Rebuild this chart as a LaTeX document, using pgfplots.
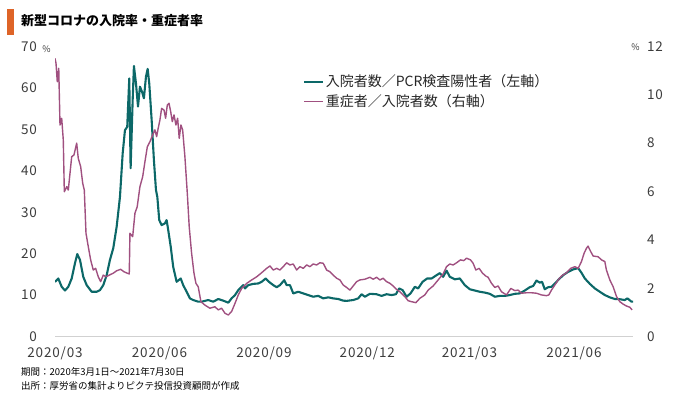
\documentclass[border=0pt]{standalone}
\usepackage{fontspec}
\setmainfont{Noto Sans CJK JP}
\usepackage{pgfplots}
\pgfplotsset{compat=1.18}
\definecolor{tealc}{RGB}{12,104,104}
\definecolor{magc}{RGB}{160,80,128}
\definecolor{barc}{RGB}{222,100,40}
\definecolor{txtc}{RGB}{60,60,60}

\begin{document}
\begin{tikzpicture}[x=1pt,y=1pt]
\useasboundingbox (0,0) rectangle (680,395);
\fill[barc] (7,360) rectangle (14,386);
\node[anchor=base west, inner sep=0, font=\fontsize{13}{15}\selectfont\bfseries] at (21,369) {新型コロナの入院率・重症者率};
\node[anchor=center, inner sep=0, text=txtc, font=\fontsize{9}{10}\selectfont] at (46.5,345.5) {\%};
\node[anchor=center, inner sep=0, text=txtc, font=\fontsize{9}{10}\selectfont] at (635.5,348) {\%};
\node[anchor=base west, inner sep=0, text=black, font=\fontsize{9.5}{11}\selectfont] at (21,19) {期間：2020年3月1日～2021年7月30日};
\node[anchor=base west, inner sep=0, text=black, font=\fontsize{9.5}{11}\selectfont] at (21,5.5) {出所：厚労省の集計よりピクテ投信投資顧問が作成};

\pgfplotsset{
  common/.style={
    scale only axis, width=578pt, height=290pt,
    at={(55pt,58.5pt)}, anchor=south west,
    xmin=0, xmax=509,
    major tick length=0pt,
    /pgf/number format/assume math mode=true,
    tick label style={font=\fontsize{13.5}{16}\selectfont\addfontfeatures{LetterSpace=6}, text=txtc},
  }
}
\begin{axis}[common,
  ymin=0, ymax=70, ytick={0,10,...,70},
  axis x line*=bottom, axis y line*=left,
  y axis line style={draw=none},
  x axis line style={draw=black!18, line width=0.8pt, -},
  xtick={0,92,184,275,365,457},
  xticklabels={2020/03,2020/06,2020/09,2020/12,2021/03,2021/06},
  xticklabel style={anchor=base, inner sep=0pt, yshift=-21pt},
  yticklabel style={anchor=east, inner sep=0pt, xshift=-18pt},
]
\addplot[color=tealc, line width=2.1pt, line join=round] coordinates {
(0,13.2)(2.9,14.0)(5.9,12.0)(8.8,11.1)(11.7,12.0)(14.7,14.0)(17.6,17.7)(19.6,19.9)(22.0,18.5)(24.9,14.4)(27.9,12.4)(32.3,10.8)(36.7,10.8)(39.6,11.2)(42.5,12.4)(45.5,14.8)(48.4,18.5)(51.3,21.3)(54.3,26.5)(57.2,33.7)(59.6,44.2)(61.6,49.8)(63.6,50.6)(65.4,62.3)(66.6,40.6)(68.4,57.1)(69.5,65.3)(71.3,61.1)(73.1,55.5)(74.8,60.3)(76.6,59.1)(78.3,57.5)(80.1,62.7)(81.6,64.6)(83.0,61.1)(85.1,52.3)(87.1,42.6)(88.9,35.4)(90.1,33.7)(91.8,28.1)(93.9,26.9)(96.8,27.3)(98.3,28.1)(99.7,25.7)(101.9,21.7)(104.1,16.8)(107.1,13.2)(110.7,14.0)(112.9,12.4)(115.9,10.8)(118.8,9.2)(121.7,8.8)(126.1,8.4)(129.1,8.4)(134.9,8.8)(139.3,8.4)(143.8,9.05)(148.2,8.65)(152.6,8.16)(155.5,9.2)(158.5,10.0)(161.4,11.2)(165.8,12.4)(167.3,11.6)(170.2,12.4)(174.6,12.7)(179.0,12.8)(182.0,13.2)(185.5,14.0)(188.4,13.2)(192.2,12.4)(195.2,11.9)(198.1,12.4)(201.9,13.6)(204.0,12.4)(206.9,12.4)(209.8,10.4)(214.2,10.8)(218.6,10.4)(223.0,10.0)(227.4,9.6)(231.8,9.8)(236.2,9.2)(240.6,9.45)(245.0,9.2)(249.4,9.05)(253.8,8.65)(256.8,8.6)(262.6,8.8)(267.0,9.2)(270.0,10.2)(272.9,9.6)(277.3,10.3)(283.2,10.2)(287.6,9.8)(292.0,10.2)(296.4,10.0)(300.2,10.2)(303.1,11.6)(306.1,11.2)(309.6,9.6)(313.1,10.4)(316.9,12.0)(319.8,11.6)(323.7,13.2)(327.7,14.0)(331.6,14.0)(336.0,14.8)(338.9,15.3)(341.8,14.4)(344.8,15.9)(347.7,14.4)(352.1,13.8)(356.5,14.0)(360.9,12.4)(365.3,11.4)(369.7,11.1)(374.1,10.8)(378.5,10.6)(382.9,10.3)(387.3,9.6)(391.7,9.8)(396.1,9.8)(400.5,10.0)(404.9,10.3)(409.3,10.4)(413.7,11.1)(418.1,11.9)(421.1,12.2)(424.0,13.5)(426.9,13.0)(428.9,13.2)(431.3,11.4)(434.3,11.9)(437.2,12.0)(440.2,12.8)(443.7,13.8)(447.5,14.8)(451.9,15.6)(456.3,16.2)(460.7,16.5)(463.6,15.4)(466.6,14.0)(471.0,12.7)(475.4,11.6)(479.8,10.8)(484.2,10.0)(488.6,9.45)(493.0,9.05)(497.4,9.0)(501.7,8.8)(504.1,9.2)(507.7,8.4)(509,8.4)
};
\end{axis}
\begin{axis}[common,
  ymin=0, ymax=12, ytick={0,2,...,12},
  axis y line*=right, axis x line=none,
  y axis line style={draw=none},
  yticklabel style={anchor=west, inner sep=0pt, xshift=14pt},
  legend cell align=left,
  legend style={at={(axis description cs:0.429,0.908)}, anchor=north west, draw=none, fill=none,
    font=\fontsize{14}{16}\selectfont, text=black!85, row sep=3.5pt, inner sep=0pt,
    nodes={inner sep=1.5pt}},
  legend image code/.code={\draw[#1] (0pt,0pt) -- (19pt,0pt);},
]
\addlegendimage{color=tealc, line width=2.1pt}
\addlegendentry{入院者数／PCR検査陽性者（左軸）}
\addplot[color=magc, line width=1.4pt, line join=round] coordinates {
(0,11.51)(0.9,11.3)(2.0,10.54)(3.3,11.1)(4.4,8.75)(5.9,9.03)(7.3,8.13)(8.2,5.99)(10.3,6.2)(11.7,6.06)(13.2,6.75)(14.7,7.44)(16.7,7.51)(19.1,8.0)(20.5,7.37)(22.6,7.03)(24.4,6.34)(25.8,6.06)(27.3,4.27)(29.3,3.72)(31.4,3.17)(33.7,2.75)(35.8,2.82)(38.1,2.47)(40.2,2.27)(42.5,2.54)(44.9,2.47)(47.8,2.54)(51.3,2.62)(54.3,2.72)(57.8,2.78)(60.7,2.68)(63.6,2.62)(65.4,2.59)(66.0,4.27)(68.4,4.13)(70.4,5.1)(72.4,5.37)(74.8,6.2)(77.2,6.61)(79.2,7.23)(81.3,7.85)(83.6,8.06)(86.0,8.34)(88.0,8.55)(89.5,8.27)(90.9,8.62)(92.4,8.96)(93.9,9.44)(96.0,9.37)(97.4,9.03)(98.9,9.58)(100.4,9.65)(101.9,9.3)(103.3,8.89)(104.8,9.17)(106.5,8.75)(108.0,9.03)(109.4,8.2)(110.9,8.75)(112.4,8.55)(114.4,7.44)(116.5,5.93)(118.2,4.54)(120.3,3.44)(122.4,2.62)(124.1,2.2)(126.1,2.06)(128.5,1.44)(132.0,1.30)(136.4,1.17)(140.8,1.23)(143.8,1.10)(146.7,1.17)(149.7,0.96)(152.6,0.89)(155.5,1.03)(158.5,1.37)(161.4,1.72)(164.4,1.99)(168.8,2.2)(173.2,2.34)(177.6,2.47)(182.0,2.64)(186.4,2.82)(189.3,2.92)(192.2,2.75)(195.2,2.82)(198.1,2.75)(201.0,2.89)(204.0,3.05)(206.9,2.96)(209.8,3.0)(212.8,2.75)(215.7,2.89)(218.6,2.82)(221.6,2.96)(224.5,2.89)(227.4,3.0)(230.4,2.96)(233.3,3.05)(236.2,3.03)(239.2,2.75)(242.1,2.68)(245.0,2.54)(248.0,2.41)(250.9,2.34)(253.8,2.13)(256.8,2.03)(259.7,1.92)(262.6,2.09)(265.6,2.27)(268.5,2.34)(272.9,2.37)(277.3,2.45)(280.2,2.37)(283.2,2.45)(286.1,2.34)(289.0,2.41)(292.0,2.27)(294.9,2.2)(297.8,2.09)(300.8,1.95)(303.7,1.85)(308.1,1.65)(311.0,1.48)(314.0,1.44)(317.8,1.40)(321.3,1.58)(325.7,1.72)(328.6,1.92)(333.0,2.09)(337.4,2.34)(341.8,2.59)(344.8,2.89)(347.7,3.0)(350.6,2.96)(353.6,3.05)(357.1,3.17)(360.0,3.14)(362.4,3.24)(365.9,3.17)(368.2,3.03)(370.6,2.75)(373.5,2.82)(376.5,2.62)(379.4,2.5)(381.4,2.45)(384.4,2.2)(387.3,2.03)(390.2,2.09)(393.2,1.85)(397.6,1.72)(401.4,1.99)(404.9,1.9)(407.8,1.92)(410.8,1.79)(415.2,1.81)(419.6,1.81)(424.0,1.79)(428.4,1.72)(432.8,1.69)(434.9,1.72)(437.2,1.92)(440.2,2.13)(443.1,2.34)(446.0,2.5)(450.5,2.64)(454.2,2.82)(457.8,2.89)(460.7,2.82)(463.6,3.1)(465.9,3.44)(468.0,3.65)(469.4,3.74)(471.8,3.51)(473.9,3.33)(478.3,3.3)(481.3,3.17)(484.2,3.1)(485.6,2.75)(488.6,2.34)(491.5,2.06)(494.5,1.65)(497.4,1.44)(500.3,1.34)(503.3,1.26)(506.2,1.21)(508.2,1.10)
};
\addlegendentry{重症者／入院者数（右軸）}
\end{axis}
\end{tikzpicture}
\end{document}
